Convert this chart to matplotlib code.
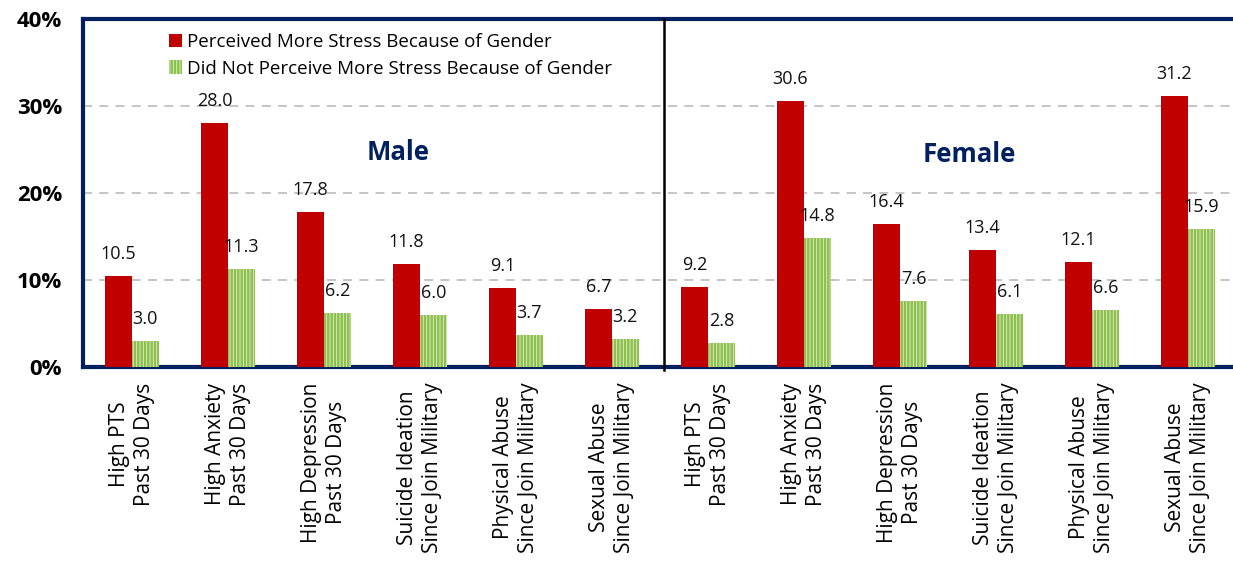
import matplotlib
matplotlib.use("Agg")
import matplotlib.pyplot as plt
import numpy as np

categories = [
    "High PTS\nPast 30 Days", "High Anxiety\nPast 30 Days", "High Depression\nPast 30 Days",
    "Suicide Ideation\nSince Join Military", "Physical Abuse\nSince Join Military",
    "Sexual Abuse\nSince Join Military",
]
labels = categories + categories
perceived = [10.5, 28.0, 17.8, 11.8, 9.1, 6.7, 9.2, 30.6, 16.4, 13.4, 12.1, 31.2]
not_perceived = [3.0, 11.3, 6.2, 6.0, 3.7, 3.2, 2.8, 14.8, 7.6, 6.1, 6.6, 15.9]
series_names = ["Perceived More Stress Because of Gender",
                "Did Not Perceive More Stress Because of Gender"]
yticks = [0, 10, 20, 30, 40]
ytick_labels = ["0%", "10%", "20%", "30%", "40%"]
group_names = ["Male", "Female"]

plt.rcParams['font.family'] = ['Open Sans', 'DejaVu Sans']
plt.rcParams['hatch.linewidth'] = 1.8

fig = plt.figure(figsize=(12.33, 5.61), dpi=100)
ax = fig.add_axes([83/1233, 1 - 367/561, (1236-83)/1233, (367-19)/561])

navy = '#002060'
red = '#c00000'
x = np.arange(len(labels))
w = 0.28
b1 = ax.bar(x - w/2, perceived, w, color=red, label=series_names[0], zorder=3)
b2 = ax.bar(x + w/2, not_perceived, w, facecolor='#e2f0d0', edgecolor='#8dc04c',
            hatch='|||||', linewidth=0, label=series_names[1], zorder=3)

for xi, v in zip(x - w/2, perceived):
    ax.text(xi, v + 1.5, f"{v:.1f}", ha='center', va='bottom', fontsize=13, color='#111111')
for xi, v in zip(x + w/2, not_perceived):
    ax.text(xi, v + 1.5, f"{v:.1f}", ha='center', va='bottom', fontsize=13, color='#111111')

ax.set_xlim(-0.51, 11.50)
ax.set_ylim(0, 40)
ax.set_yticks(yticks)
ax.set_yticklabels(ytick_labels, fontsize=16, fontweight='bold')
ax.set_xticks(x)
ax.set_xticklabels(labels, rotation=90, fontsize=15, multialignment='center',
                   linespacing=1.2)
ax.tick_params(axis='both', length=0)
ax.tick_params(axis='y', pad=15)
ax.tick_params(axis='x', pad=11)

for yv in [10, 20, 30]:
    ax.axhline(yv, color='#c0c0c0', linestyle=(0, (5, 4)), linewidth=1.3, zorder=1)

for s in ['left', 'top', 'bottom', 'right']:
    ax.spines[s].set_color(navy)
    ax.spines[s].set_linewidth(3)

ax.plot([5.54, 5.54], [-0.4, 40], color='black', linewidth=1.8, clip_on=False, zorder=4)

ax.text(2.77, 24.7, group_names[0], ha='center', va='center', fontsize=18.5,
        fontweight='bold', color=navy)
ax.text(8.72, 24.4, group_names[1], ha='center', va='center', fontsize=18.5,
        fontweight='bold', color=navy)

leg = ax.legend(loc='upper left', bbox_to_anchor=(0.062, 1.0), frameon=False,
                fontsize=13.5, handlelength=0.7, handleheight=0.7,
                handletextpad=0.3, labelspacing=0.45, borderaxespad=0.35)

fig.savefig("out.png", dpi=100)
